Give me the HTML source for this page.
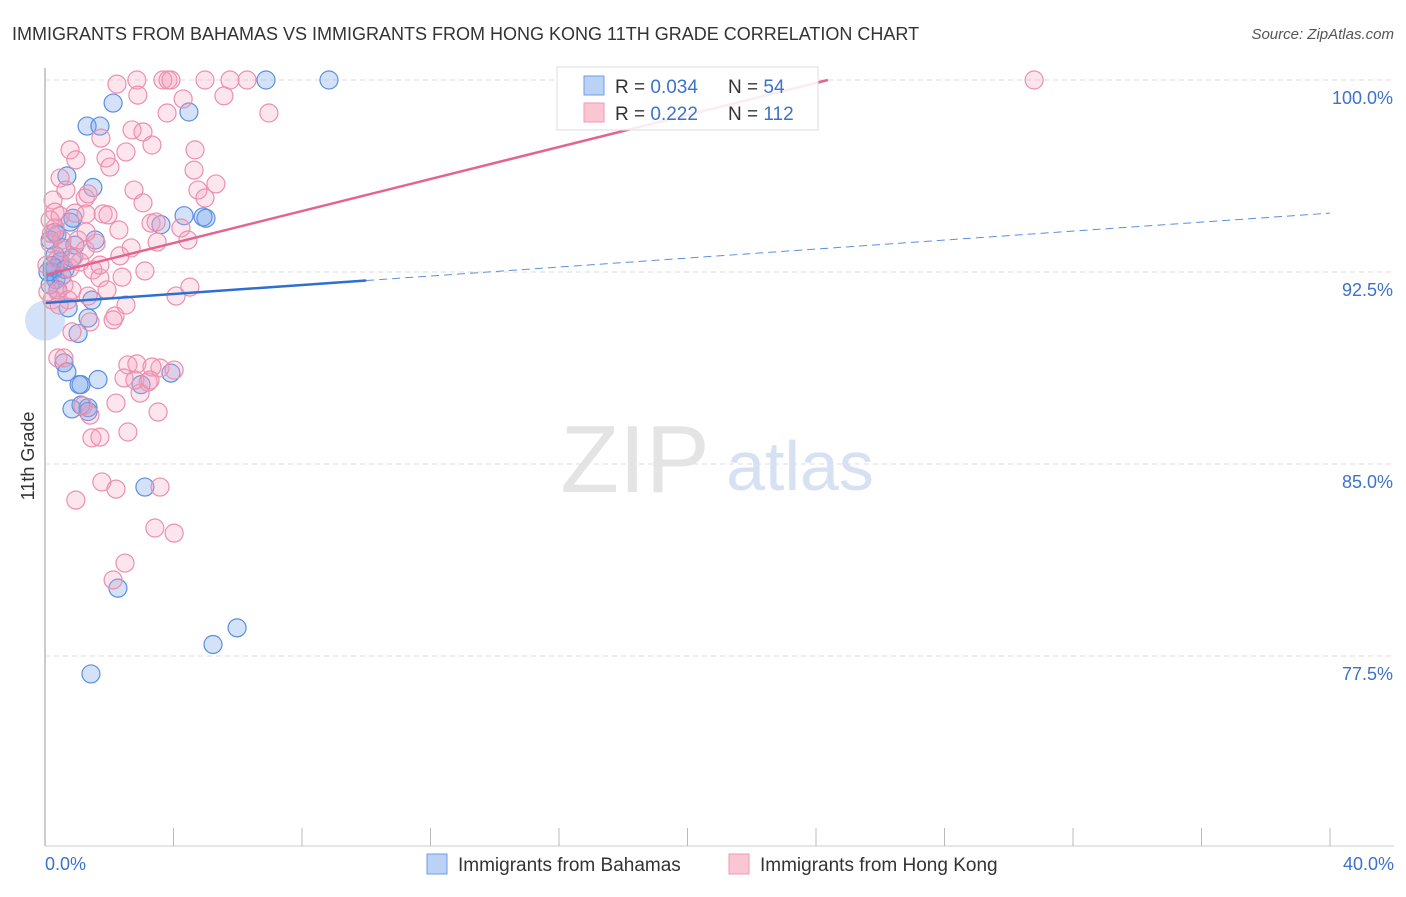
<!DOCTYPE html>
<html><head><meta charset="utf-8"><style>
body{margin:0;background:#fff;font-family:"Liberation Sans",sans-serif;}
svg text{font-family:"Liberation Sans",sans-serif;}
</style></head><body>
<svg id="chart" width="1406" height="892" xmlns="http://www.w3.org/2000/svg">
<text x="12" y="40" font-size="18" fill="#333">IMMIGRANTS FROM BAHAMAS VS IMMIGRANTS FROM HONG KONG 11TH GRADE CORRELATION CHART</text>
<text x="1394" y="39" font-size="15" fill="#555" font-style="italic" text-anchor="end">Source: ZipAtlas.com</text>
<g id="grid"></g>
<text x="635" y="492" font-size="96" fill="#e4e4e4" font-family="Liberation Serif" text-anchor="middle">ZIP</text>
<text x="800" y="490" font-size="70" fill="#d6e2f3" text-anchor="middle">atlas</text>
<g id="points"></g>
<g id="trends"></g>
<line x1="45" y1="68" x2="45" y2="846" stroke="#bbb" stroke-width="1.5"/>
<line x1="45" y1="846" x2="1394" y2="846" stroke="#ccc" stroke-width="1"/>
<g id="axes"></g>
<text x="34" y="456" font-size="18" fill="#333" text-anchor="middle" transform="rotate(-90 34 456)">11th Grade</text>
<g>
<rect x="557" y="67" width="261" height="63" fill="#fff" fill-opacity="0.88" stroke="#ddd"/>
<rect x="584" y="76" width="20" height="19" fill="#b9d2f5" stroke="#6f9ee3"/>
<rect x="584" y="103" width="20" height="19" fill="#fbc6d4" stroke="#ef9ab4"/>
<text x="615" y="93" font-size="19" fill="#333">R = <tspan fill="#3d72c9">0.034</tspan></text>
<text x="728" y="93" font-size="19" fill="#333">N = <tspan fill="#3d72c9"> 54</tspan></text>
<text x="615" y="120" font-size="19" fill="#333">R = <tspan fill="#3d72c9"> 0.222</tspan></text>
<text x="728" y="120" font-size="19" fill="#333">N = <tspan fill="#3d72c9">112</tspan></text>
</g>
<g>
<rect x="427" y="854" width="20" height="20" fill="#b9d2f5" stroke="#6f9ee3"/>
<text x="458" y="871" font-size="19" fill="#333">Immigrants from Bahamas</text>
<rect x="729" y="854" width="20" height="20" fill="#fbc6d4" stroke="#ef9ab4"/>
<text x="760" y="871" font-size="19" fill="#333">Immigrants from Hong Kong</text>
</g>
</svg>
<script>
const blueX=[2.12,1.31,1.71,1.49,0.68,6.88,8.84,4.48,4.33,4.92,5.01,3.61,0.87,0.78,0.37,0.53,0.84,0.31,0.31,0.22,0.34,0.16,1.46,0.72,1.34,1.03,0.59,0.68,1.12,1.06,1.65,3.92,2.99,1.12,0.84,1.34,3.11,2.27,5.98,5.23,1.43,0.47,0.09,0.53,0.93,0.16,0.62,0.22,0.40,1.34,1.56,0.31];
const blueY=[99.1,98.2,98.2,95.8,96.25,100,100,98.75,94.7,94.65,94.6,94.35,94.6,94.45,93.95,93.45,93.05,93.15,92.65,92.5,92.2,92.0,91.4,91.1,90.7,90.1,88.95,88.6,88.1,88.1,88.3,88.55,88.1,87.3,87.15,87.2,84.1,80.15,78.6,77.95,76.8,92.9,92.5,92.35,93.55,93.75,92.6,92.75,91.8,87.05,93.75,94.05];
const pinkX=[2.24,2.86,3.67,3.83,3.92,4.98,6.29,5.76,30.79,2.89,4.30,5.57,3.80,6.97,2.71,3.05,1.74,2.52,3.33,1.90,2.02,4.67,4.64,0.78,0.96,0.47,0.65,4.76,4.98,5.32,2.77,3.05,1.25,0.25,0.31,0.47,0.93,1.28,1.81,1.96,2.30,3.30,3.46,4.23,4.45,3.49,2.68,2.33,3.11,4.08,4.51,1.59,1.03,1.28,0.31,0.16,0.16,0.53,1.09,1.49,1.71,0.59,0.40,0.84,1.93,1.34,2.18,2.52,2.12,0.84,1.40,0.40,0.59,2.58,2.86,3.58,4.02,2.46,3.21,2.96,2.21,3.52,1.46,1.71,2.58,1.77,2.21,3.58,0.96,3.42,4.02,2.49,2.12,0.09,0.22,0.78,1.25,1.71,0.37,0.06,0.53,0.72,3.33,2.80,1.40,3.27,1.18,0.44,1.34,0.90,2.40,0.20];
const pinkY=[99.84,100,100,100,100,100,100,100,100,99.41,99.26,99.38,98.71,98.71,98.05,97.97,97.73,97.19,97.46,96.95,96.60,97.27,96.48,97.27,96.88,96.17,95.70,95.70,95.39,95.94,95.70,95.20,95.39,95.31,94.84,94.69,94.80,94.77,94.77,94.73,94.14,94.41,94.45,94.22,93.75,93.67,93.44,93.13,92.54,91.56,91.91,93.63,93.75,94.06,94.22,94.53,93.63,93.36,92.89,92.58,92.27,91.99,91.72,91.80,91.80,91.56,90.78,91.21,90.63,90.16,90.55,89.14,89.14,88.87,88.91,88.75,88.67,88.36,88.20,87.77,87.38,87.03,86.02,86.05,86.25,84.30,84.02,84.10,83.59,82.50,82.30,81.13,80.47,91.72,91.41,92.66,93.36,92.77,92.97,92.77,93.75,91.41,88.79,88.28,86.91,88.28,87.27,91.21,95.55,93.10,92.30,94.00];
const yTicks=[100,92.5,85,77.5];
const yTickLabels=["100.0%","92.5%","85.0%","77.5%"];
const xTickLabels=["0.0%","40.0%"];
const blueTrend=[91.29,94.8];
const pinkTrend=[92.38,100];
const pinkTrendEndX=24.37;

const NS="http://www.w3.org/2000/svg";
function sx(v){return 45+v*32.125;}
function sy(v){return 80+(100-v)*25.6;}
function mk(tag,attrs,parent){const e=document.createElementNS(NS,tag);for(const k in attrs)e.setAttribute(k,attrs[k]);parent.appendChild(e);return e;}
const grid=document.getElementById('grid'),axes=document.getElementById('axes'),pts=document.getElementById('points'),tr=document.getElementById('trends');
yTicks.forEach((t,i)=>{
  const l=mk('line',{x1:45,x2:1394,y1:sy(t),y2:sy(t),stroke:'#ddd','stroke-dasharray':'5,4'},grid);
  
  
  const tx=mk('text',{x:1393,y:sy(t)+24,'font-size':18,fill:'#3d72c9','text-anchor':'end'},axes);
  tx.textContent=yTickLabels[i];
  
  
});
for(let i=0;i<=10;i++){
  const x=45+i*128.5;
  const l=mk('line',{x1:x,x2:x,y1:828,y2:846,stroke:'#bbb'},axes);
  
  
}
[[0,'start',45],[40,'end',1394]].forEach((a,i)=>{
  const tx=mk('text',{x:a[2],y:870,'font-size':18,fill:'#3d72c9','text-anchor':a[1]},axes);
  tx.textContent=xTickLabels[i];
  
  
});
blueX.forEach((x,i)=>{
  const big=(x===0);
  const c=mk('circle',{cx:sx(x),cy:sy(blueY[i]),r:9,fill:'rgba(110,160,235,0.3)',stroke:'#5b8fe0','stroke-width':1.2},pts);
  
  
});
{const c=mk('circle',{cx:sx(0),cy:sy(90.6),r:20,fill:'rgba(110,160,235,0.3)',stroke:'none'},pts);

}
pinkX.forEach((x,i)=>{
  const c=mk('circle',{cx:sx(x),cy:sy(pinkY[i]),r:9,fill:'rgba(245,160,190,0.28)',stroke:'#ec8fac','stroke-width':1.2},pts);
  
  
});
const bAt=x=>blueTrend[0]+(blueTrend[1]-blueTrend[0])*x/40;
let l=mk('line',{x1:sx(0),y1:sy(bAt(0)),x2:sx(10),y2:sy(bAt(10)),stroke:'#2f6fd0','stroke-width':2.5},tr);


l=mk('line',{x1:sx(10),y1:sy(bAt(10)),x2:sx(40),y2:sy(bAt(40)),stroke:'#5b8fe0','stroke-width':1,'stroke-dasharray':'8,5'},tr);


l=mk('line',{x1:sx(0),y1:sy(pinkTrend[0]),x2:sx(pinkTrendEndX),y2:sy(pinkTrend[1]),stroke:'#e4648e','stroke-width':2.5},tr);


</script>
</body></html>
